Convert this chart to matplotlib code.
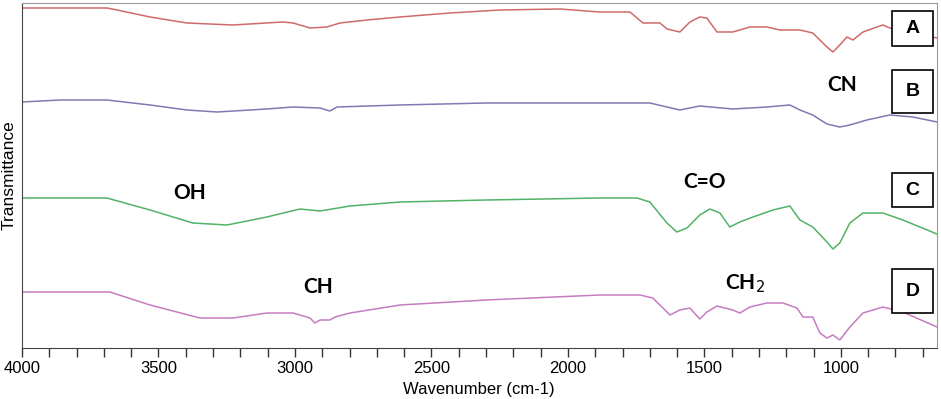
import matplotlib.pyplot as plt
from matplotlib.patches import Rectangle
from matplotlib.ticker import MultipleLocator

plt.rcParams['font.family'] = ['Liberation Sans', 'DejaVu Sans']

# wavenumber (cm-1) and offset transmittance (arbitrary units) for each spectrum
wn_a = [4000, 3751, 3689, 3652, 3531, 3396, 3227, 3044, 3007, 2945, 2883, 2835, 2736, 2615,
        2432, 2249, 2029, 1883, 1773, 1725, 1663, 1637, 1590, 1553, 1517, 1491, 1454, 1396,
        1333, 1271, 1224, 1150, 1103, 1051, 1029, 1004, 978, 956, 919, 868, 846, 821, 648]
tr_a = [334, 334, 334, 332, 325, 319, 317, 320, 319, 314, 315, 319, 322, 325,
        329, 332, 333, 330, 330, 319, 319, 313, 310, 320, 325, 324, 310, 310,
        315, 315, 312, 312, 309, 295, 290, 297, 305, 302, 310, 315, 317, 314, 304]

wn_b = [4000, 3861, 3689, 3531, 3396, 3286, 3103, 3007, 2908, 2872, 2846, 2615, 2300,
        1883, 1700, 1590, 1517, 1396, 1271, 1187, 1150, 1103, 1051, 1004, 967, 905,
        821, 736, 648]
tr_b = [240, 242, 242, 237, 232, 230, 233, 235, 234, 231, 235, 237, 239,
        239, 239, 232, 236, 233, 235, 237, 232, 227, 218, 215, 217, 222,
        227, 225, 220]

wn_c = [4000, 3689, 3531, 3374, 3249, 3103, 2982, 2908, 2798, 2615, 2300, 1883, 1747,
        1700, 1637, 1601, 1564, 1517, 1480, 1443, 1407, 1370, 1322, 1249, 1187, 1150,
        1103, 1051, 1029, 1004, 967, 919, 846, 773, 648]
tr_c = [144, 144, 132, 119, 117, 125, 133, 131, 136, 140, 142, 144, 144,
        140, 119, 110, 114, 127, 133, 129, 115, 120, 125, 132, 136, 122,
        115, 100, 93, 99, 119, 129, 129, 122, 108]

wn_d = [4000, 3678, 3531, 3348, 3227, 3103, 3007, 2945, 2927, 2908, 2872, 2853, 2798,
        2615, 2300, 1883, 1736, 1689, 1626, 1590, 1553, 1517, 1491, 1454, 1396, 1370,
        1333, 1271, 1212, 1161, 1139, 1103, 1077, 1051, 1029, 1004, 967, 919, 846,
        773, 648]
tr_d = [50, 50, 37, 24, 24, 29, 29, 24, 19, 22, 22, 25, 29,
        37, 42, 47, 47, 44, 27, 32, 34, 23, 30, 36, 32, 29,
        35, 39, 39, 34, 25, 25, 9, 4, 7, 2, 15, 29, 35,
        30, 15]

spectra = [(wn_a, tr_a, '#d06a6a'), (wn_b, tr_b, '#7e7ab2'),
           (wn_c, tr_c, '#52b266'), (wn_d, tr_d, '#c67cbf')]

# group annotations (wavenumber, transmittance)
groups = ['OH', 'CH', 'C=O', 'CH$_2$', 'CN']
group_x = [3385, 2916, 1498, 1350, 996]
group_y = [149, 55, 160, 58, 257]

panel_labels = ['A', 'B', 'C', 'D']
panel_bottom = [296, 229, 135, 29]
panel_top = [331, 272, 169, 73]

fig = plt.figure(figsize=(9.41, 3.99), dpi=100)
ax = fig.add_axes([0.0234, 0.1278, 0.9723, 0.8647])

for wn, tr, col in spectra:
    ax.plot(wn, tr, color=col, lw=1.1)

for g, gx, gy in zip(groups, group_x, group_y):
    ax.text(gx, gy, g, fontsize=15, fontweight='bold', ha='center', va='center',
            family=['Lato', 'DejaVu Sans'])

trans = ax.get_yaxis_transform()
for p, b, t in zip(panel_labels, panel_bottom, panel_top):
    ax.add_patch(Rectangle((0.951, b), 0.0448, t - b, transform=trans,
                           fc='white', ec='black', lw=1.2, zorder=3))
    ax.text(0.951 + 0.0224, (b + t) / 2, p, transform=trans, fontsize=14,
            fontweight='bold', ha='center', va='center', zorder=4)

ax.set_xlim(4000, 648)
ax.set_ylim(-6, 339)
ax.xaxis.set_major_locator(MultipleLocator(500))
ax.xaxis.set_minor_locator(MultipleLocator(100))
ax.tick_params(axis='x', which='both', direction='out', length=6.5, width=1,
               labelsize=12, pad=3, colors='#333333', labelcolor='black')
ax.set_yticks([])
ax.set_xlabel('Wavenumber (cm-1)', fontsize=12)
ax.xaxis.set_label_coords(0.4995, -0.119)
ax.xaxis.label.set_va('center')
ax.set_ylabel('Transmittance', fontsize=12.5)
ax.yaxis.set_label_coords(-0.0142, 0.5)
ax.yaxis.label.set_va('center')
for s in ['top', 'right']:
    ax.spines[s].set_color('#999999')
ax.spines['left'].set_color('#444444')
ax.spines['bottom'].set_color('#444444')

fig.savefig('out.png', dpi=100)
